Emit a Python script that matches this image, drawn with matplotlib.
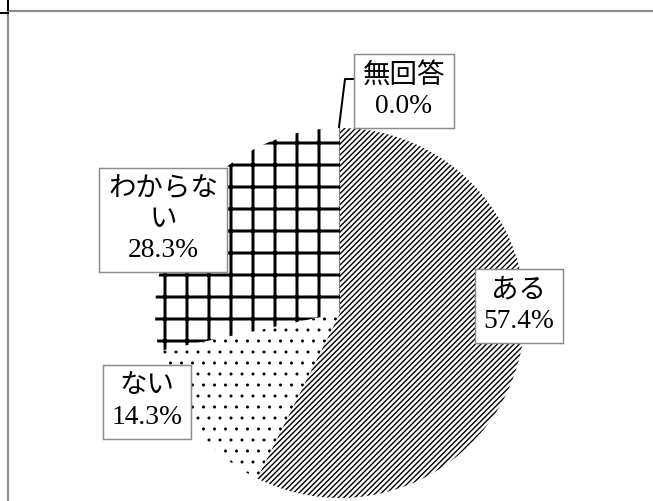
import matplotlib
matplotlib.use('Agg')
import matplotlib.pyplot as plt
from matplotlib.lines import Line2D

plt.rcParams['font.family'] = ['Liberation Serif', 'Noto Sans CJK JP', 'DejaVu Sans']

# データ
labels = ['ある', 'ない', 'わからない', '無回答']
values = [57.4, 14.3, 28.3, 0.0]
label_text = ['ある\n57.4%', 'ない\n14.3%', 'わからな\nい\n28.3%', '無回答\n0.0%']
hatches = ['////////', '..', '+', '']

W, H = 653, 501
DPI = 132            # ハッチの間隔を合わせるためのdpi
PT = 72 / DPI        # 1ピクセルあたりのポイント
hatch_lw = [1.4 * PT, 0.8 * PT, 3.0 * PT, 1.0 * PT]

fig = plt.figure(figsize=(W / DPI, H / DPI), dpi=DPI)
ax = fig.add_axes([0, 0, 1, 1])

def yy(y):
    # 画像座標 -> 軸座標
    return H - y

cx, cy, r = 340, 313, 185
wedges, _ = ax.pie(values, startangle=90, counterclock=False,
                   center=(cx, yy(cy)), radius=r,
                   wedgeprops=dict(facecolor='white', edgecolor='black', linewidth=0))
for w, h, lw in zip(wedges, hatches, hatch_lw):
    w.set_hatch(h)
    if hasattr(w, 'set_hatch_linewidth'):
        w.set_hatch_linewidth(lw)

ax.set_xlim(0, W)
ax.set_ylim(0, H)
ax.set_aspect('equal')
ax.axis('off')

# ラベル位置 (画像座標)
label_pos = [(519, 306), (147, 402), (163, 220), (404, 91)]
for txt, (x, y) in zip(label_text, label_pos):
    ax.text(x, yy(y), txt, ha='center', va='center', fontsize=27.5 * PT,
            linespacing=1.3, multialignment='center',
            bbox=dict(boxstyle='square,pad=0.32', facecolor='white',
                      edgecolor='#8c8c8c', linewidth=1.5 * PT), zorder=5)

# 無回答の引き出し線
ax.plot([356, 345, 339], [yy(79), yy(79), yy(127)], color='black', lw=2 * PT, zorder=4)

# 枠線
fig.add_artist(Line2D([8 / W, 1], [1 - 11 / H, 1 - 11 / H], color='#8c8c8c', lw=2.2 * PT))
fig.add_artist(Line2D([8 / W, 8 / W], [0, 1 - 11 / H], color='#8c8c8c', lw=2.2 * PT))
fig.add_artist(Line2D([8 / W, 8 / W], [1 - 10 / H, 1], color='black', lw=2 * PT))
fig.add_artist(Line2D([0, 8 / W], [1 - 13 / H, 1 - 13 / H], color='black', lw=2 * PT))

fig.savefig('out.png', dpi=DPI, facecolor='white')
